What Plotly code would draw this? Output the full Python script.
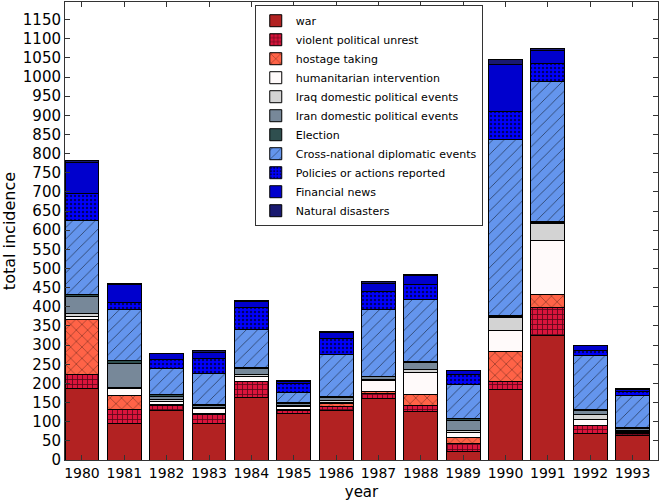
import plotly.graph_objects as go

years = list(range(1980, 1994))

war = [187, 96, 130, 96, 162, 122, 130, 161, 126, 22, 184, 324, 68, 65]
violent = [37, 35, 13, 23, 42, 6, 10, 13, 17, 20, 20, 74, 21, 4]
hostage = [143, 38, 2, 2, 2, 4, 7, 4, 28, 17, 80, 34, 2, 2]
humanitarian = [7, 19, 9, 13, 13, 7, 4, 30, 57, 13, 55, 140, 16, 3]
iraq = [8, 2, 5, 4, 3, 4, 4, 3, 8, 6, 32, 45, 12, 3]
iran = [45, 61, 8, 5, 17, 4, 8, 6, 18, 26, 3, 2, 9, 4]
election = [5, 8, 3, 2, 2, 4, 4, 2, 3, 5, 4, 4, 5, 5]
cross = [193, 133, 70, 80, 101, 24, 109, 174, 163, 87, 459, 366, 139, 82]
policies = [71, 20, 23, 39, 56, 24, 41, 48, 39, 26, 74, 47, 15, 12]
financial = [81, 45, 14, 17, 17, 7, 15, 21, 23, 11, 123, 34, 12, 5]
natural = [4, 4, 2, 4, 2, 2, 3, 3, 2, 2, 13, 4, 1, 2]

series = [
    ("war", war, "#B22222", ""),
    ("violent political unrest", violent, "#DC143C", "+"),
    ("hostage taking", hostage, "#FF6347", "x"),
    ("humanitarian intervention", humanitarian, "#FFFAFA", ""),
    ("Iraq domestic political events", iraq, "#D3D3D3", ""),
    ("Iran domestic political events", iran, "#778899", ""),
    ("Election", election, "#2F4F4F", ""),
    ("Cross-national diplomatic events", cross, "#6495ED", "/"),
    ("Policies or actions reported", policies, "#0000FF", "."),
    ("Financial news", financial, "#0000CD", ""),
    ("Natural disasters", natural, "#191970", ""),
]

pattern_sizes = {"": 8, "+": 5, "x": 8, "/": 8, ".": 4}
pattern_sol = {"": 0.2, "+": 0.3, "x": 0.12, "/": 0.1, ".": 0.3}

fig = go.Figure()
for name, vals, color, hatch in series:
    fig.add_trace(go.Bar(
        x=years, y=vals, name=name, width=0.8,
        marker=dict(
            color=color,
            line=dict(color="black", width=1),
            pattern=dict(shape=hatch, fgcolor="black", fgopacity=0.6,
                         size=pattern_sizes[hatch], solidity=pattern_sol[hatch]),
        ),
    ))

fig.update_layout(
    barmode="stack",
    width=660, height=504,
    margin=dict(l=65, r=2, t=2, b=44),
    paper_bgcolor="white", plot_bgcolor="white",
    font=dict(family="DejaVu Sans", color="black"),
    showlegend=True,
    legend=dict(
        x=0.32, y=0.993, xanchor="left", yanchor="top",
        bgcolor="white", bordercolor="#333333", borderwidth=1,
        font=dict(size=11), traceorder="normal", tracegroupgap=0,
    ),
    xaxis=dict(
        range=[1979.6, 1993.6], tickmode="array", tickvals=years,
        ticktext=[str(y) for y in years],
        ticks="inside", ticklen=5, tickcolor="#333333",
        showline=True, linecolor="#333333", linewidth=1, mirror="ticks",
        showgrid=False, zeroline=False, automargin=False,
        tickfont=dict(size=14),
        title=dict(text="year", font=dict(size=15), standoff=6),
    ),
    yaxis=dict(
        range=[0, 1196], dtick=50, tick0=0,
        ticks="inside", ticklen=5, tickcolor="#333333",
        showline=True, linecolor="#333333", linewidth=1, mirror="ticks",
        showgrid=False, zeroline=False, automargin=False,
        tickfont=dict(size=15),
        title=dict(text="total incidence", font=dict(size=16), standoff=6),
    ),
)

fig.write_html(
    "out.html",
    config={"displayModeBar": False},
    post_script="document.body.style.margin='0';document.body.style.overflow='hidden';",
)
